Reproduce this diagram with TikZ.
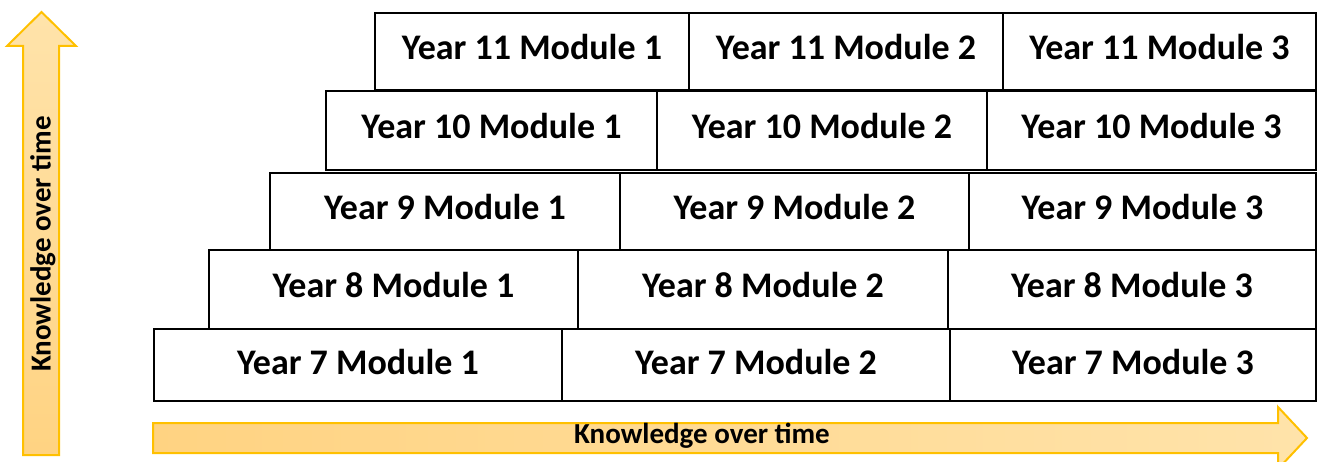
\documentclass[tikz,border=0pt]{standalone}
\usepackage{fontspec}
\setmainfont{Carlito}
\definecolor{gold}{HTML}{FFC000}
\definecolor{arrowdark}{HTML}{FFD382}
\definecolor{arrowlight}{HTML}{FFE3AA}
\begin{document}
\begin{tikzpicture}[x=1pt,y=-1pt,
  cell/.style={draw=black, line width=2pt, inner sep=0pt, anchor=north west},
  celltext/.style={font=\bfseries\fontsize{36}{40}\selectfont, inner sep=0pt},
  arrowtext/.style={font=\bfseries\fontsize{29}{32}\selectfont, inner sep=0pt},
  bigarrow/.style={draw=gold, line width=2pt, line join=miter}]
\useasboundingbox (0,0) rectangle (1319,462);
\clip (0,0) rectangle (1319,462);
% arrows
\path[bigarrow, top color=arrowlight, bottom color=arrowdark]
  (23,455) -- (23,46) -- (7,46) -- (41.5,12) -- (76,46) -- (59,46) -- (59,455) -- cycle;
\node[arrowtext, rotate=90] (vtext) at (43,244) {Knowledge over time};
\path[bigarrow, left color=arrowdark, right color=arrowlight]
  (153,423) -- (1278,423) -- (1278,407) -- (1307,438) -- (1278,469) -- (1278,453) -- (153,453) -- cycle;
\node[arrowtext] (htext) at (702,436) {Knowledge over time};
% cells
\newcommand{\cellrow}[9]{%
  \pgfmathsetmacro{\hh}{#3-#2}%
  \pgfmathsetmacro{\wa}{#5-#4}\pgfmathsetmacro{\wb}{#6-#5}\pgfmathsetmacro{\wc}{#7-#6}%
  \node[cell, minimum width=\wa pt, minimum height=\hh pt] (#8a) at (#4,#2) {};
  \node[cell, minimum width=\wb pt, minimum height=\hh pt] (#8b) at (#5,#2) {};
  \node[cell, minimum width=\wc pt, minimum height=\hh pt] (#8c) at (#6,#2) {};
  \node[celltext] (#8ta) at ([yshift=#9]#8a.center) {Year #1 Module 1};
  \node[celltext] (#8tb) at ([yshift=#9]#8b.center) {Year #1 Module 2};
  \node[celltext] (#8tc) at ([yshift=#9]#8c.center) {Year #1 Module 3};
}
\cellrow{11}{12}{89}{374}{688}{1002}{1315}{y11}{4pt}
\cellrow{10}{90}{169}{325}{656}{986}{1315}{y10}{4pt}
\cellrow{9}{172}{249}{269}{619}{968}{1315}{y9}{4pt}
\cellrow{8}{249}{328}{208}{577}{947}{1315}{y8}{4pt}
\cellrow{7}{328}{400}{153}{561}{949}{1315}{y7}{3pt}
\end{tikzpicture}
\end{document}
